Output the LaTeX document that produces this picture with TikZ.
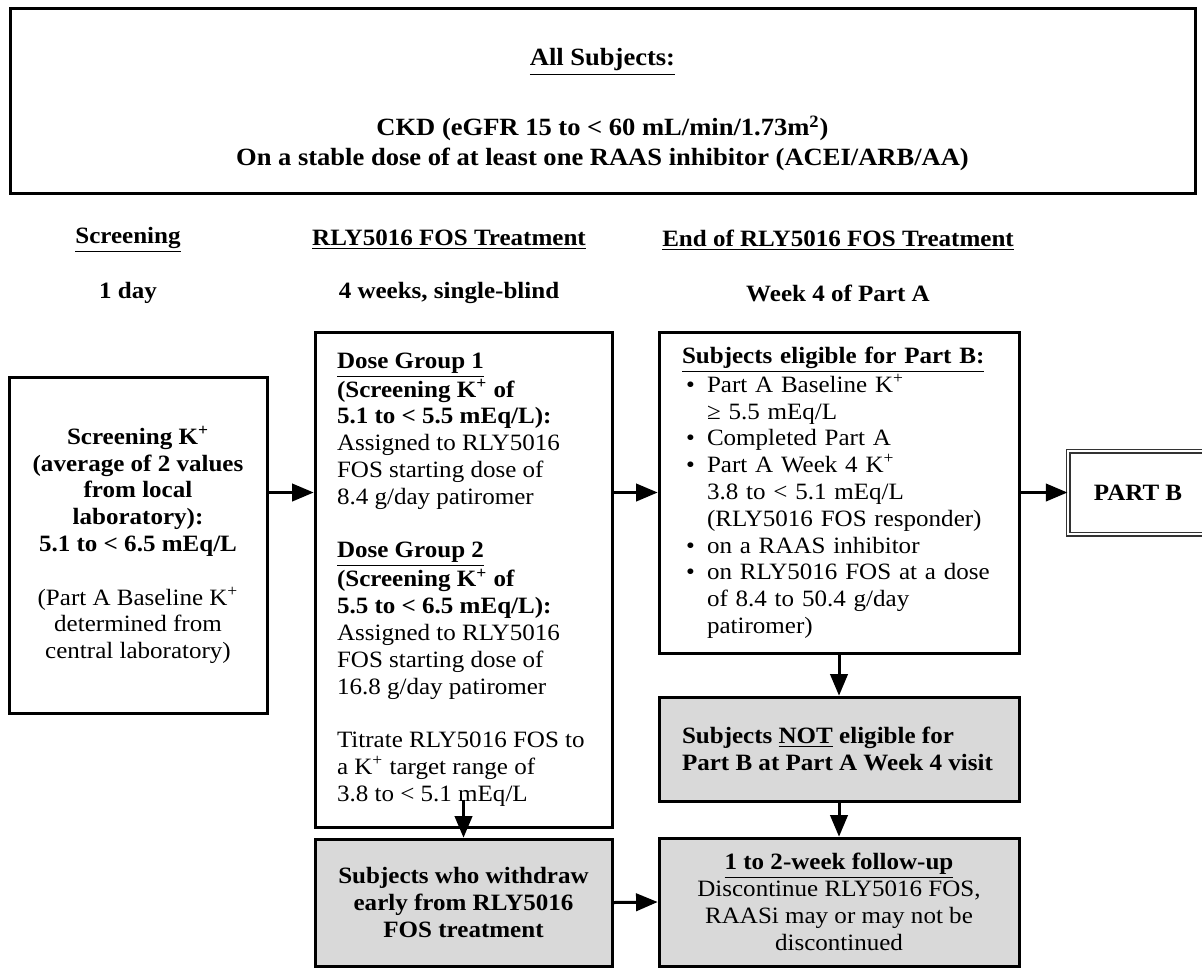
\documentclass[tikz,border=0pt]{standalone}
\usepackage{fontspec}
\setmainfont{Liberation Serif}[FakeStretch=1.07]
\usepackage{enumitem}
\usetikzlibrary{arrows, positioning, calc}
\definecolor{boxgray}{RGB}{217,217,217}
\newcommand{\txt}{\fontsize{11.7}{13.4}\selectfont}
\newcommand{\Kp}{K\textsuperscript{+}}

\begin{document}
\begin{tikzpicture}[x=0.5pt, y=-0.5pt, >=triangle 45,
    box/.style={draw, line width=1.5pt, inner sep=0pt, font=\txt},
    shaded/.style={box, fill=boxgray},
    head/.style={font=\txt\bfseries},
    arr/.style={->, line width=1.5pt}]
    \useasboundingbox (0,0) rectangle (1202,969);
    \clip (0,0) rectangle (1202,969);

    % inclusion banner
    \node[box, font=\fontsize{12.4}{15}\selectfont\bfseries, minimum width=592.5pt, minimum height=92.5pt, align=flush center] (all) at (602.5,100.5)
        {\rule{0pt}{18pt}\underline{All Subjects:}\\[20pt]
         CKD (eGFR 15 to < 60 mL/min/1.73m\textsuperscript{2})\\
         On a stable dose of at least one RAAS inhibitor (ACEI/ARB/AA)};

    % column headings
    \node[head] (hscr) at (128,240) {\underline{Screening}};
    \node[head] (htrt) at (449,240) {\underline{RLY5016 FOS Treatment}};
    \node[head] (hend) at (838,240) {\underline{End of RLY5016 FOS Treatment}};
    \node[head] (dscr) at (128,293) {1 day};
    \node[head] (dtrt) at (449,293) {4 weeks, single-blind};
    \node[head] (dend) at (838,293) {Week 4 of Part A};

    % boxes
    \node[box, minimum width=129pt, minimum height=168pt, align=flush center] (screen) at (138,545)
        {\textbf{Screening \Kp}\\ \textbf{(average of 2 values}\\ \textbf{from local}\\ \textbf{laboratory):}\\
         \textbf{5.1 to < 6.5 mEq/L}\\[13.4pt]
         (Part A Baseline \Kp\\ determined from\\ central laboratory)};

    \node[box, minimum width=148.5pt, minimum height=247.5pt, text width=126.5pt, align=flush left] (dose) at (463.5,579.5)
        {\textbf{\underline{Dose Group 1}}\\
         \textbf{(Screening \Kp{} of}\\
         \textbf{5.1 to < 5.5 mEq/L):}\\
         Assigned to RLY5016\\ FOS starting dose of\\ 8.4 g/day patiromer\\[13.4pt]
         \textbf{\underline{Dose Group 2}}\\
         \textbf{(Screening \Kp{} of}\\
         \textbf{5.5 to < 6.5 mEq/L):}\\
         Assigned to RLY5016\\ FOS starting dose of\\ 16.8 g/day patiromer\\[13.4pt]
         Titrate RLY5016 FOS to\\ a \Kp{} target range of\\ 3.8 to < 5.1 mEq/L};

    \node[box, minimum width=180pt, minimum height=160.5pt, text width=157pt] (elig) at (839,492.5)
        {\raggedright\textbf{\underline{Subjects eligible for Part B:}}
         \begin{itemize}[leftmargin=12.5pt, labelsep=6pt, itemsep=0pt, topsep=0pt, parsep=0pt, partopsep=0pt]
         \item Part A Baseline \Kp\\ ≥ 5.5 mEq/L
         \item Completed Part A
         \item Part A Week 4 \Kp\\ 3.8 to < 5.1 mEq/L\\ (RLY5016 FOS responder)
         \item on a RAAS inhibitor
         \item on RLY5016 FOS at a dose\\ of 8.4 to 50.4 g/day\\ patiromer)
         \end{itemize}};

    \node[box, font=\txt\bfseries, draw=black!80, line width=0.75pt, double, double distance=1pt,
        minimum width=70pt, minimum height=41.5pt] (partb) at (1138,492.5) {PART B};

    \node[shaded, font=\txt\bfseries, minimum width=180pt, minimum height=52pt, text width=157pt, align=flush left] (noteli) at (839,749)
        {Subjects \underline{NOT} eligible for\\ Part B at Part A Week 4 visit};

    \node[shaded, font=\txt\bfseries, minimum width=148.5pt, minimum height=63.5pt, align=flush center] (withdraw) at (463.5,902.5)
        {Subjects who withdraw\\ early from RLY5016\\ FOS treatment};

    \node[shaded, minimum width=180pt, minimum height=64pt, align=flush center] (follow) at (839,902)
        {\textbf{\underline{1 to 2-week follow-up}}\\ Discontinue RLY5016 FOS,\\ RAASi may or may not be\\ discontinued};

    % flow
    \draw[arr] (screen.east |- elig.east) -- (dose.west |- elig.east);
    \draw[arr] (dose.east |- elig.west) -- (elig.west);
    \draw[arr] (elig.east) -- (partb.west);
    \draw[arr] (elig.south) -- (noteli.north);
    \draw[arr] (noteli.south) -- (follow.north);
    \draw[arr] ([yshift=14.5pt]dose.south) -- (withdraw.north);
    \draw[arr] (withdraw.east) -- (follow.west);
\end{tikzpicture}
\end{document}
